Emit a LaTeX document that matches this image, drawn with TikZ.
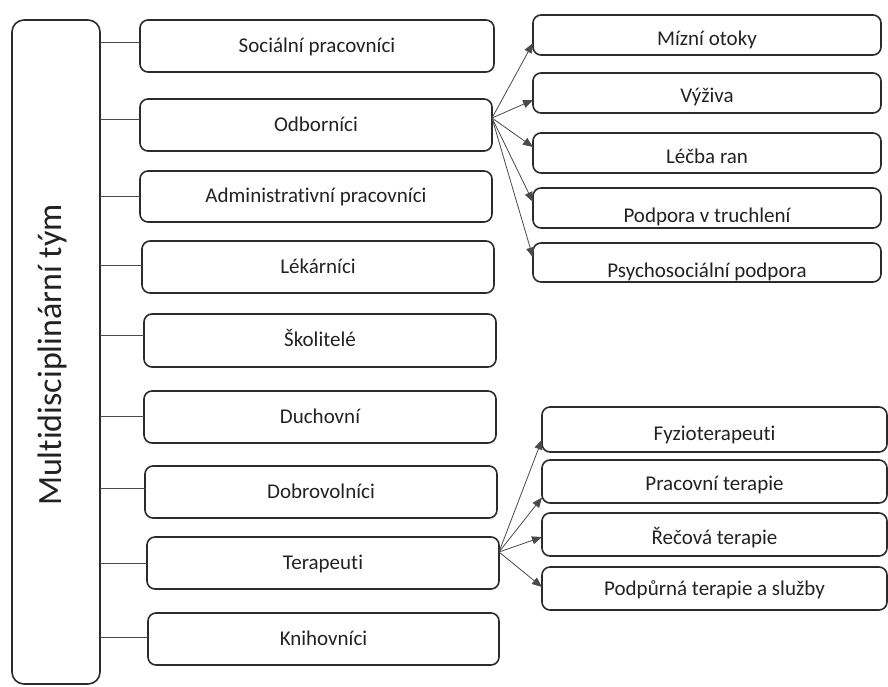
\documentclass[tikz,border=0pt]{standalone}
\usepackage{fontspec}
\setmainfont{Carlito}[Ligatures=CommonOff]
\usetikzlibrary{arrows.meta}
\definecolor{boxc}{HTML}{2B2B2B}
\definecolor{linec}{HTML}{4A4A4A}
\definecolor{txt}{HTML}{222222}
\begin{document}
\begin{tikzpicture}[x=1pt,y=-1pt,
  box/.style={draw=boxc, line width=1.6pt, rounded corners=8pt, inner sep=0pt, outer sep=0pt,
    font=\fontsize{21}{25}\selectfont, text=txt, minimum width=352pt, minimum height=52pt,
    text height=14pt, text depth=2pt},
  rbox/.style={box, minimum width=348pt, minimum height=40pt, text height=#1, text depth=0pt},
  tbox/.style={box, minimum width=345pt, minimum height=43pt, text height=#1, text depth=0pt},
  conn/.style={draw=linec, line width=0.9pt},
  arr/.style={draw=linec, line width=0.8pt, -{Triangle[length=10pt,width=8pt]}}]
\useasboundingbox (0,0) rectangle (888,686);

% left tall box
\node[draw=boxc, line width=1.6pt, rounded corners=12pt, minimum width=88pt, minimum height=664pt,
  inner sep=0pt, outer sep=0pt] (L) at (56,352) {};
\node[rotate=90, font=\fontsize{34}{40}\selectfont, text=txt, inner sep=0pt] (T) at (52,355) {Multidisciplinární tým};

% middle column
\node[box, minimum width=354pt] (s1) at (317,46) {Sociální pracovníci};
\node[box] (s2) at (316,125) {Odborníci};
\node[box, minimum height=51pt] (s3) at (316,196.5) {Administrativní pracovníci};
\node[box] (s4) at (318,267) {Lékárníci};
\node[box, minimum height=53pt] (s5) at (320,340.5) {Školitelé};
\node[box] (s6) at (320,417) {Duchovní};
\node[box] (s7) at (321,492) {Dobrovolníci};
\node[box] (s8) at (323,563) {Terapeuti};
\node[box, minimum width=351pt] (s9) at (323.5,639) {Knihovníci};

% connectors from left box
\coordinate (c1) at ([yshift=4pt]s1.west);
\coordinate (c2) at ([yshift=6pt]s2.west);
\coordinate (c3) at (s3.west);
\coordinate (c4) at ([yshift=2pt]s4.west);
\coordinate (c5) at ([yshift=5pt]s5.west);
\coordinate (c6) at ([yshift=1pt]s6.west);
\coordinate (c7) at ([yshift=4pt]s7.west);
\coordinate (c8) at (s8.west);
\coordinate (c9) at ([yshift=2pt]s9.west);
\foreach \c in {c1,c2,c3,c4,c5,c6,c7,c8,c9}
  \draw[conn] (L.east |- \c) -- (\c);

% right upper column
\node[rbox=20pt] (r1) at (707,35) {Mízní otoky};
\node[rbox=18pt] (r2) at (707,93) {Výživa};
\node[rbox=20pt] (r3) at (707,153) {Léčba ran};
\node[rbox=28pt] (r4) at (707,208) {Podpora v truchlení};
\node[rbox=29pt, minimum height=39pt] (r5) at (707,262.5) {Psychosociální podpora};

\coordinate (o2) at ([yshift=7pt]s2.east);
\draw[arr] (o2) -- ([yshift=-8pt]r1.west);
\draw[arr] (o2) -- ([yshift=-7pt]r2.west);
\draw[arr] (o2) -- ([yshift=6pt]r3.west);
\draw[arr] (o2) -- ([yshift=6pt]r4.west);
\draw[arr] (o2) -- ([yshift=5pt]r5.west);

% right lower column
\node[tbox=21pt, minimum height=45pt] (t1) at (714.5,429.5) {Fyzioterapeuti};
\node[tbox=17pt] (t2) at (714.5,481.5) {Pracovní terapie};
\node[tbox=19pt] (t3) at (714.5,534.5) {Řečová terapie};
\node[tbox=13pt] (t4) at (714.5,588.5) {Podpůrná terapie a služby};

\coordinate (o8) at ([yshift=11pt]s8.east);
\draw[arr] (o8) -- ([yshift=-10pt]t1.west);
\draw[arr] (o8) -- ([yshift=-16pt]t2.west);
\draw[arr] (o8) -- ([yshift=-2.5pt]t3.west);
\draw[arr] (o8) -- ([yshift=1.5pt]t4.west);
\end{tikzpicture}
\end{document}
